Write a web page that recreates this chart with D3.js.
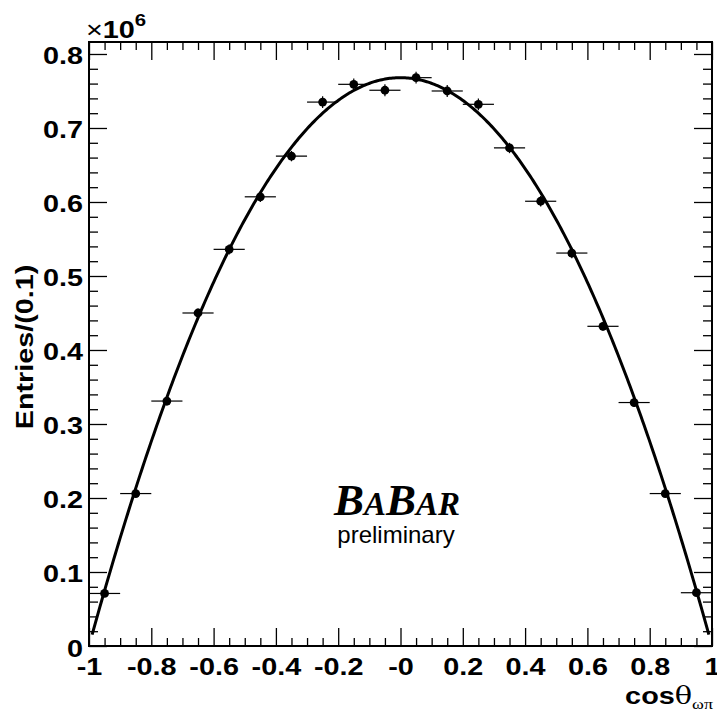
<!DOCTYPE html>
<html>
<head>
<meta charset="utf-8">
<script src="https://cdn.jsdelivr.net/npm/d3@7"></script>
<style>
  html, body { margin: 0; padding: 0; background: #fff; }
  svg { display: block; }
  text { font-family: "Liberation Sans", Arial, Helvetica, sans-serif; }
</style>
</head>
<body>
<svg id="chart" width="717" height="711"></svg>
<script>
// Bin centres of cos(theta_omega-pi), bin width 0.1
const binCenters = [-0.95, -0.85, -0.75, -0.65, -0.55, -0.45, -0.35, -0.25, -0.15, -0.05,
                     0.05,  0.15,  0.25,  0.35,  0.45,  0.55,  0.65,  0.75,  0.85,  0.95];
// Entries per bin (units of 10^6)
const entries = [0.071, 0.206, 0.331, 0.450, 0.536, 0.607, 0.662, 0.735, 0.759, 0.751,
                 0.768, 0.750, 0.732, 0.673, 0.601, 0.531, 0.432, 0.329, 0.206, 0.072];
// Statistical uncertainty per bin (units of 10^6)
const errors = [0.004, 0.005, 0.006, 0.006, 0.007, 0.007, 0.007, 0.008, 0.008, 0.008,
                0.008, 0.008, 0.008, 0.007, 0.007, 0.007, 0.006, 0.006, 0.005, 0.004];
const binHalfWidth = 0.05;

// Fit: A * (1 - x^2)
const fitA = 0.768;
const fitRange = [-0.99, 0.99];

// Axis ticks and labels
const xTicks = [-1, -0.8, -0.6, -0.4, -0.2, 0, 0.2, 0.4, 0.6, 0.8, 1];
const xTickLabels = ["-1", "-0.8", "-0.6", "-0.4", "-0.2", "-0", "0.2", "0.4", "0.6", "0.8", "1"];
const yTicks = [0, 0.1, 0.2, 0.3, 0.4, 0.5, 0.6, 0.7, 0.8];
const yTickLabels = ["0", "0.1", "0.2", "0.3", "0.4", "0.5", "0.6", "0.7", "0.8"];

const svg = d3.select("#chart");
const frame = { left: 89, right: 712, top: 42, bottom: 646 };
const wide = 1.2;   // horizontal stretch of the bold sans labels

const x = d3.scaleLinear().domain([-1, 1]).range([frame.left, frame.right]);
const y = d3.scaleLinear().domain([0, 0.8162]).range([frame.bottom, frame.top]);

const xMinor = d3.range(-1, 1.0001, 0.05).map(v => +v.toFixed(2)).filter(v => !xTicks.some(t => Math.abs(t - v) < 1e-6));
const yMinor = d3.range(0, 0.8001, 0.02).map(v => +v.toFixed(2)).filter(v => !yTicks.some(t => Math.abs(t - v) < 1e-6));

function styleAxis(g, width) {
  g.select(".domain").remove();
  g.selectAll(".tick line").attr("stroke", "#000").attr("stroke-width", width);
}

// Bottom axis
const gB = svg.append("g").attr("transform", `translate(0,${frame.bottom})`);
gB.call(d3.axisBottom(x).tickValues(xMinor).tickSize(-8).tickSizeOuter(0).tickFormat(""))
  .call(g => styleAxis(g, 1.3));
const gBM = svg.append("g").attr("transform", `translate(0,${frame.bottom})`);
gBM.call(d3.axisBottom(x).tickValues(xTicks).tickSize(-18).tickSizeOuter(0)
    .tickFormat((d, i) => xTickLabels[i]))
  .call(g => styleAxis(g, 1.3));
gBM.selectAll(".tick text")
  .attr("x", 0).attr("y", 0).attr("dy", 0)
  .attr("transform", `translate(0,29) scale(${wide},1)`)
  .attr("fill", "#000")
  .style("font-size", "24px").style("font-weight", "bold")
  .style("font-family", "'Liberation Sans', Arial, sans-serif");

// Top axis (ticks only)
svg.append("g").attr("transform", `translate(0,${frame.top})`)
  .call(d3.axisTop(x).tickValues(xMinor).tickSize(-8).tickSizeOuter(0).tickFormat(""))
  .call(g => styleAxis(g, 1.3));
svg.append("g").attr("transform", `translate(0,${frame.top})`)
  .call(d3.axisTop(x).tickValues(xTicks).tickSize(-18).tickSizeOuter(0).tickFormat(""))
  .call(g => styleAxis(g, 1.3));

// Left axis
svg.append("g").attr("transform", `translate(${frame.left},0)`)
  .call(d3.axisLeft(y).tickValues(yMinor).tickSize(-9).tickSizeOuter(0).tickFormat(""))
  .call(g => styleAxis(g, 1.3));
const gLM = svg.append("g").attr("transform", `translate(${frame.left},0)`);
gLM.call(d3.axisLeft(y).tickValues(yTicks).tickSize(-18).tickSizeOuter(0)
    .tickFormat((d, i) => yTickLabels[i]))
  .call(g => styleAxis(g, 1.3));
gLM.selectAll(".tick text")
  .attr("x", 0).attr("y", 0).attr("dy", 0)
  .attr("transform", `translate(-6,10) scale(${wide},1)`)
  .attr("fill", "#000")
  .style("font-size", "24px").style("font-weight", "bold")
  .style("font-family", "'Liberation Sans', Arial, sans-serif");

// Right axis (ticks only)
svg.append("g").attr("transform", `translate(${frame.right},0)`)
  .call(d3.axisRight(y).tickValues(yMinor).tickSize(-9).tickSizeOuter(0).tickFormat(""))
  .call(g => styleAxis(g, 1.3));
svg.append("g").attr("transform", `translate(${frame.right},0)`)
  .call(d3.axisRight(y).tickValues(yTicks).tickSize(-18).tickSizeOuter(0).tickFormat(""))
  .call(g => styleAxis(g, 1.3));

// Frame
svg.append("rect")
  .attr("x", frame.left).attr("y", frame.top)
  .attr("width", frame.right - frame.left).attr("height", frame.bottom - frame.top)
  .attr("fill", "none").attr("stroke", "#000").attr("stroke-width", 2);

// Fit curve
const fitX = d3.range(0, 401).map(i => fitRange[0] + (fitRange[1] - fitRange[0]) * i / 400);
const fitLine = d3.line().x(d => x(d)).y(d => y(fitA * (1 - d * d)));
svg.append("path")
  .datum(fitX)
  .attr("d", fitLine)
  .attr("fill", "none").attr("stroke", "#000").attr("stroke-width", 3)
  .attr("stroke-linejoin", "round");

// Data points with error bars
const pts = svg.append("g").selectAll("g").data(binCenters).join("g");
pts.append("line")
  .attr("x1", d => x(d - binHalfWidth)).attr("x2", d => x(d + binHalfWidth))
  .attr("y1", (d, i) => y(entries[i])).attr("y2", (d, i) => y(entries[i]))
  .attr("stroke", "#000").attr("stroke-width", 1.2);
pts.append("line")
  .attr("x1", d => x(d)).attr("x2", d => x(d))
  .attr("y1", (d, i) => y(entries[i] - errors[i])).attr("y2", (d, i) => y(entries[i] + errors[i]))
  .attr("stroke", "#000").attr("stroke-width", 1.2);
pts.append("circle")
  .attr("cx", d => x(d)).attr("cy", (d, i) => y(entries[i]))
  .attr("r", 4.4).attr("fill", "#000");

// Exponent marker
const expo = svg.append("text").attr("transform", `translate(86,38) scale(${wide},1)`).attr("fill", "#000");
expo.append("tspan").style("font-size", "24px").text("×");
expo.append("tspan").style("font-size", "24px").style("font-weight", "bold").text("10");
expo.append("tspan").attr("dy", -12).style("font-size", "17px").style("font-weight", "bold").text("6");

// Axis titles
svg.append("text")
  .attr("transform", "translate(33,347) rotate(-90) scale(1.25,1)")
  .attr("text-anchor", "middle")
  .attr("fill", "#000")
  .style("font-size", "23px").style("font-weight", "bold")
  .text("Entries/(0.1)");

const xt = svg.append("text").attr("transform", `translate(713,704) scale(${wide},1)`)
  .attr("text-anchor", "end").attr("fill", "#000");
xt.append("tspan").style("font-size", "24px").style("font-weight", "bold").text("cos");
xt.append("tspan").style("font-size", "24px").style("font-family", "'DejaVu Serif', 'Liberation Serif', serif").text("θ");
xt.append("tspan").attr("dy", 5).style("font-size", "15px").style("font-family", "'Liberation Serif', serif").text("ωπ");

// Experiment label
const babar = svg.append("text").attr("x", 397).attr("y", 515).attr("text-anchor", "middle")
  .attr("fill", "#000")
  .style("font-family", "'Liberation Serif', 'Times New Roman', serif")
  .style("font-weight", "bold").style("font-style", "italic");
babar.append("tspan").style("font-size", "45px").text("B");
babar.append("tspan").style("font-size", "33px").text("A");
babar.append("tspan").style("font-size", "45px").text("B");
babar.append("tspan").style("font-size", "33px").text("AR");

svg.append("text").attr("x", 396).attr("y", 543).attr("text-anchor", "middle")
  .attr("fill", "#000")
  .style("font-size", "24px")
  .text("preliminary");
</script>
</body>
</html>
